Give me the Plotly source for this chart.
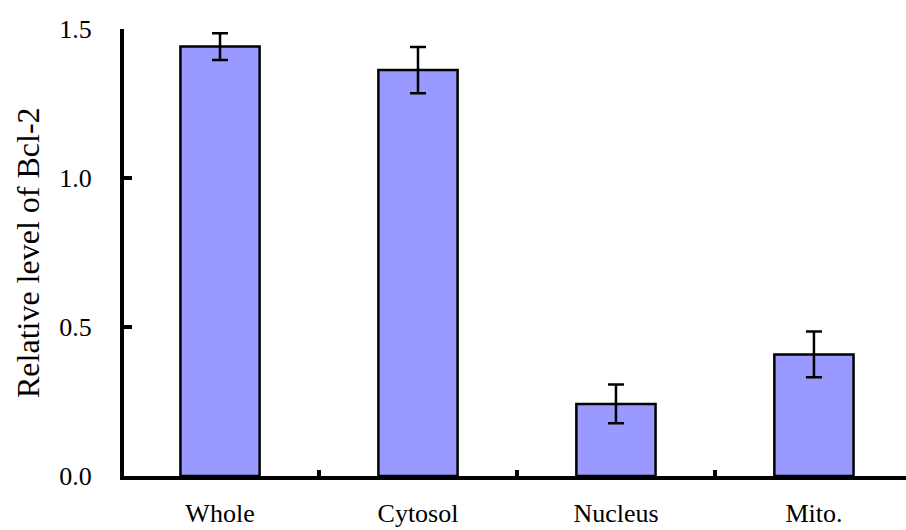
import plotly.graph_objects as go

categories = ["Whole", "Cytosol", "Nucleus", "Mito."]
values = [1.441, 1.362, 0.242, 0.408]
errors = [0.045, 0.078, 0.065, 0.077]
y_ticks = [0.0, 0.5, 1.0, 1.5]
y_tick_labels = ["0.0", "0.5", "1.0", "1.5"]
y_title = "Relative level of Bcl-2"

font_family = "Liberation Serif, Times New Roman, serif"

fig = go.Figure()
fig.add_trace(go.Bar(
    x=categories, y=values,
    width=0.4,
    marker=dict(color="#9999FF", line=dict(color="black", width=2.5)),
    error_y=dict(type="data", array=errors, visible=True,
                 color="black", thickness=2.5, width=8),
))

fig.update_layout(
    width=906, height=530,
    margin=dict(l=124, r=0, t=29, b=54, autoexpand=False),
    paper_bgcolor="white", plot_bgcolor="white",
    showlegend=False,
    font=dict(family=font_family, color="black", size=26),
    bargap=0.6,
    xaxis=dict(
        type="category",
        range=[-0.485, 3.465],
        automargin=False,
        showline=True, linecolor="black", linewidth=4,
        ticks="inside", tickson="boundaries", ticklen=6, tickwidth=4, tickcolor="black",
        showgrid=False, zeroline=False,
        tickfont=dict(size=26),
        ticklabelstandoff=11,
    ),
    yaxis=dict(
        range=[0, 1.5],
        automargin=False,
        tickvals=y_ticks, ticktext=y_tick_labels,
        showline=True, linecolor="black", linewidth=4,
        ticks="inside", ticklen=8, tickwidth=4, tickcolor="black",
        showgrid=False, zeroline=False,
        tickfont=dict(size=26),
        ticklabelstandoff=23,
    ),
    annotations=[dict(
        text=y_title, xref="paper", yref="paper",
        x=-124/782, y=(476-253)/447, xanchor="left", yanchor="middle",
        xshift=8, textangle=-90, showarrow=False,
        font=dict(size=32, family=font_family, color="black"),
    )],
)

fig.write_html("out.html", config={"displayModeBar": False},
               post_script="document.body.style.margin='0px';document.body.style.padding='0px';")
